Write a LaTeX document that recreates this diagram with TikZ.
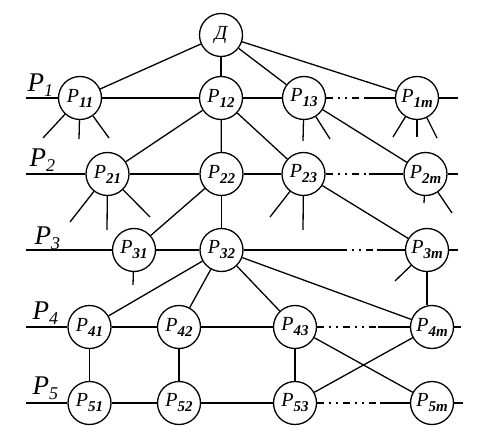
\documentclass[tikz,border=0pt]{standalone}
\usepackage{fontspec}
\setmainfont{Liberation Serif}
\newcommand{\pl}[1]{{\fontsize{20}{20}\selectfont\itshape P}\raisebox{-5pt}{\fontsize{15}{15}\selectfont\bfseries\itshape #1}}
\newcommand{\rlab}[1]{{\fontsize{27}{27}\selectfont\itshape P}\raisebox{-5pt}{\fontsize{18}{18}\selectfont\itshape #1}}
\begin{document}
\begin{tikzpicture}[x=1pt,y=-1pt,
  every path/.style={line width=1.3pt},
  circ/.style={circle, draw, minimum size=43pt, inner sep=0pt, fill=white},
  rowlab/.style={anchor=south west, inner sep=0pt},
  gapline/.style={dash pattern=on 7pt off 5pt on 2pt off 5pt on 2pt off 5pt}]
\fill[white] (0,0) rectangle (492,438);
\useasboundingbox (0,0) rectangle (492,438);

% coordinates (free ends)
\coordinate (L1) at (26,98);  \coordinate (R1) at (458,98);
\coordinate (L2) at (26,174); \coordinate (R2) at (458,174);
\coordinate (L3) at (26,250); \coordinate (R3) at (458,250);
\coordinate (L4) at (26,327); \coordinate (R4) at (461,327);
\coordinate (L5) at (26,403); \coordinate (R5) at (463,403);
\coordinate (g1) at (364,98);
\coordinate (g2) at (369,174);
\coordinate (g3a) at (340,250); \coordinate (g3b) at (377,250);
\coordinate (g4) at (378,327);
\coordinate (g5) at (380,403);
\coordinate (s11a) at (43,138); \coordinate (s11b) at (79,139); \coordinate (s11c) at (109,138);
\coordinate (s13a) at (303,141); \coordinate (s13b) at (330,139);
\coordinate (s1ma) at (393,137); \coordinate (s1mb) at (417,137); \coordinate (s1mc) at (437,138);
\coordinate (s21a) at (70,222); \coordinate (s21b) at (107,230); \coordinate (s21c) at (150,217);
\coordinate (s23a) at (270,217); \coordinate (s23b) at (303,230);
\coordinate (s2ma) at (424,203); \coordinate (s2mb) at (452,213);
\coordinate (s31a) at (133,285);
\coordinate (s3ma) at (395,281);

% nodes
\node[circ] (D) at (221,35) {\fontsize{20}{20}\selectfont\itshape Д};
\node[circ] (P11) at (80,98) {\pl{11}};
\node[circ] (P12) at (221,98) {\pl{12}};
\node[circ] (P13) at (304,98) {\pl{13}};
\node[circ] (P1m) at (417,98) {\pl{1m}};
\node[circ] (P21) at (107.5,174) {\pl{21}};
\node[circ] (P22) at (221.5,174) {\pl{22}};
\node[circ] (P23) at (303.5,174) {\pl{23}};
\node[circ] (P2m) at (425.5,174) {\pl{2m}};
\node[circ] (P31) at (134,250) {\pl{31}};
\node[circ] (P32) at (221.5,250) {\pl{32}};
\node[circ] (P3m) at (427,250) {\pl{3m}};
\node[circ] (P41) at (89.5,327) {\pl{41}};
\node[circ] (P42) at (179,327) {\pl{42}};
\node[circ] (P43) at (295,327) {\pl{43}};
\node[circ] (P4m) at (432,327) {\pl{4m}};
\node[circ] (P51) at (89.5,403) {\pl{51}};
\node[circ] (P52) at (179,403) {\pl{52}};
\node[circ] (P53) at (295,403) {\pl{53}};
\node[circ] (P5m) at (432,403) {\pl{5m}};

% row labels
\node[rowlab] (lab1) at (27,97) {\rlab{1}};
\node[rowlab] (lab2) at (29,172) {\rlab{2}};
\node[rowlab] (lab3) at (34,250) {\rlab{3}};
\node[rowlab] (lab4) at (32,325) {\rlab{4}};
\node[rowlab] (lab5) at (32,400) {\rlab{5}};

% top
\draw (D) -- (P11); \draw (D) -- (P12); \draw (D) -- (P13); \draw (D) -- (P1m);
% row 1
\draw (L1) -- (P11) -- (P12) -- (P13);
\draw[gapline] (P13) -- (g1);
\draw (g1) -- (P1m) -- (R1);
\draw (P11) -- (s11a); \draw (P11) -- (s11b); \draw (P11) -- (s11c);
\draw (P13) -- (s13a); \draw (P13) -- (s13b);
\draw (P1m) -- (s1ma); \draw (P1m) -- (s1mb); \draw (P1m) -- (s1mc);
\draw (P12) -- (P21); \draw (P12) -- (P22); \draw (P12) -- (P23);
\draw (P13) -- (P2m);
% row 2
\draw (L2) -- (P21) -- (P22) -- (P23);
\draw[gapline] (P23) -- (g2);
\draw (g2) -- (P2m) -- (R2);
\draw (P21) -- (s21a); \draw (P21) -- (s21b); \draw (P21) -- (s21c);
\draw (P23) -- (s23a); \draw (P23) -- (s23b);
\draw (P2m) -- (s2ma); \draw (P2m) -- (s2mb);
\draw (P22) -- (P31); \draw (P22) -- (P32);
\draw (P23) -- (P3m);
% row 3
\draw (L3) -- (P31) -- (P32) -- (g3a);
\draw[gapline] (g3a) -- (g3b);
\draw (g3b) -- (P3m) -- (R3);
\draw (P31) -- (s31a);
\draw (P3m) -- (s3ma);
\draw (P32) -- (P41); \draw (P32) -- (P42); \draw (P32) -- (P43); \draw (P32) -- (P4m);
\draw (P3m.south) -- (P3m.south |- P4m.north);
% row 4
\draw (L4) -- (P41) -- (P42) -- (P43);
\draw[gapline] (P43) -- (g4);
\draw (g4) -- (P4m) -- (R4);
\draw (P41) -- (P51); \draw (P42) -- (P52); \draw (P43) -- (P53);
\draw (P43) -- (P5m); \draw (P4m) -- (P53);
% row 5
\draw (L5) -- (P51) -- (P52) -- (P53);
\draw[gapline] (P53) -- (g5);
\draw (g5) -- (P5m) -- (R5);
\end{tikzpicture}
\end{document}
